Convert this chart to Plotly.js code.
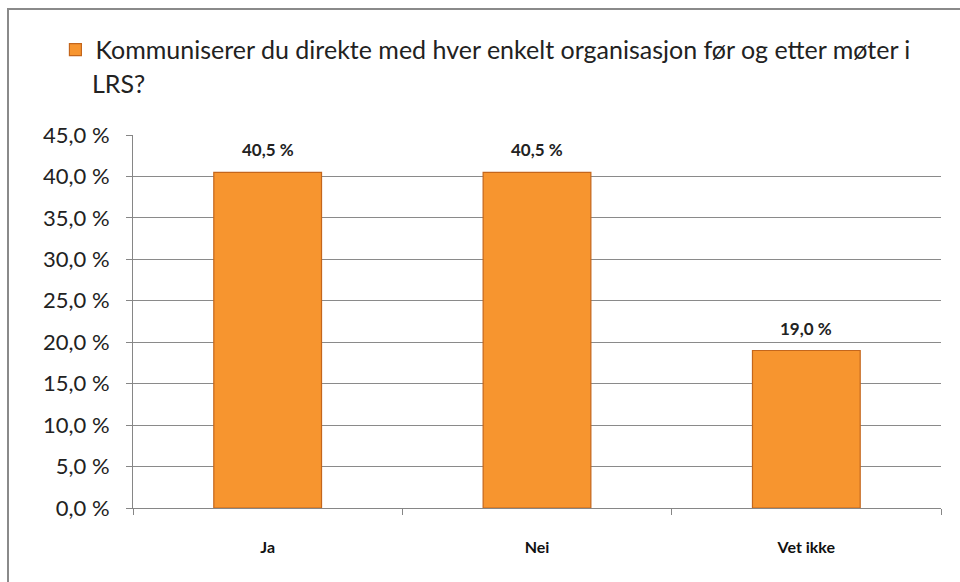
<!DOCTYPE html>
<html><head><meta charset="utf-8">
<script src="https://cdn.plot.ly/plotly-3.0.1.min.js"></script>
<style>
html,body{margin:0;padding:0;background:#fff;}
#wrap{position:relative;width:960px;height:582px;overflow:hidden;}
#frame{position:absolute;left:7px;top:8px;width:1000px;height:700px;border-left:2px solid #8a8a8a;border-top:2px solid #8a8a8a;pointer-events:none;}
#chart{position:absolute;left:0;top:0;width:960px;height:582px;}
</style></head>
<body>
<div id="wrap"><div id="chart"></div><div id="frame"></div></div>
<script>
const categories = ["Ja", "Nei", "Vet ikke"];
const values = [40.5, 40.5, 19.0];
const valueLabels = ["40,5 %", "40,5 %", "19,0 %"];
const seriesName = "Kommuniserer du direkte med hver enkelt organisasjon før og etter møter i";
const seriesNameLine2 = "LRS?";
const tickValues = [0, 5, 10, 15, 20, 25, 30, 35, 40, 45];
const tickText = ["0,0 %", "5,0 %", "10,0 %", "15,0 %", "20,0 %", "25,0 %", "30,0 %", "35,0 %", "40,0 %", "45,0 %"];

const trace = {
  type: "bar",
  x: categories,
  y: values,
  name: seriesName,
  marker: {color: "#F7952F", line: {color: "#C4661C", width: 1.2}},
  showlegend: true
};

const labelAnnotations = categories.map((c, i) => ({
  x: c, y: values[i], xref: "x", yref: "y", text: valueLabels[i],
  showarrow: false, yanchor: "bottom", yshift: 10,
  font: {family: "Lato, sans-serif", size: 17, color: "#222", weight: "bold"}
}));

const layout = {
  width: 960, height: 582,
  margin: {l: 133, r: 19, t: 135, b: 74},
  paper_bgcolor: "rgba(0,0,0,0)",
  plot_bgcolor: "#fff",
  bargap: 0.6,
  font: {family: "Lato, sans-serif", color: "#222"},
  xaxis: {
    showgrid: false, showline: true, linecolor: "#868686", linewidth: 1,
    ticks: "outside", ticklen: 6, tickcolor: "#868686", tickson: "boundaries",
    tickfont: {family: "Lato, sans-serif", size: 16, color: "#111", weight: "bold"},
    ticklabelstandoff: 25
  },
  yaxis: {
    range: [0, 45], tickmode: "array", tickvals: tickValues, ticktext: tickText,
    showgrid: true, gridcolor: "#8a8a8a", gridwidth: 1,
    showline: true, linecolor: "#868686", linewidth: 1,
    ticks: "outside", ticklen: 6, tickcolor: "#868686",
    tickfont: {family: "Lato, sans-serif", size: 22, color: "#222"},
    ticklabelstandoff: 12,
    zeroline: false
  },
  showlegend: true,
  legend: {
    x: -0.096, xanchor: "left", y: 1.29, yanchor: "top",
    font: {family: "Lato, sans-serif", size: 25, color: "#222"},
    bgcolor: "rgba(0,0,0,0)"
  },
  annotations: labelAnnotations.concat([{
    text: seriesNameLine2, xref: "paper", yref: "paper",
    x: -0.053, y: 1.185, xanchor: "left", yanchor: "top", showarrow: false,
    font: {family: "Lato, sans-serif", size: 25, color: "#222"}
  }])
};

Plotly.newPlot("chart", [trace], layout, {displayModeBar: false, staticPlot: true});
</script>
</body></html>
